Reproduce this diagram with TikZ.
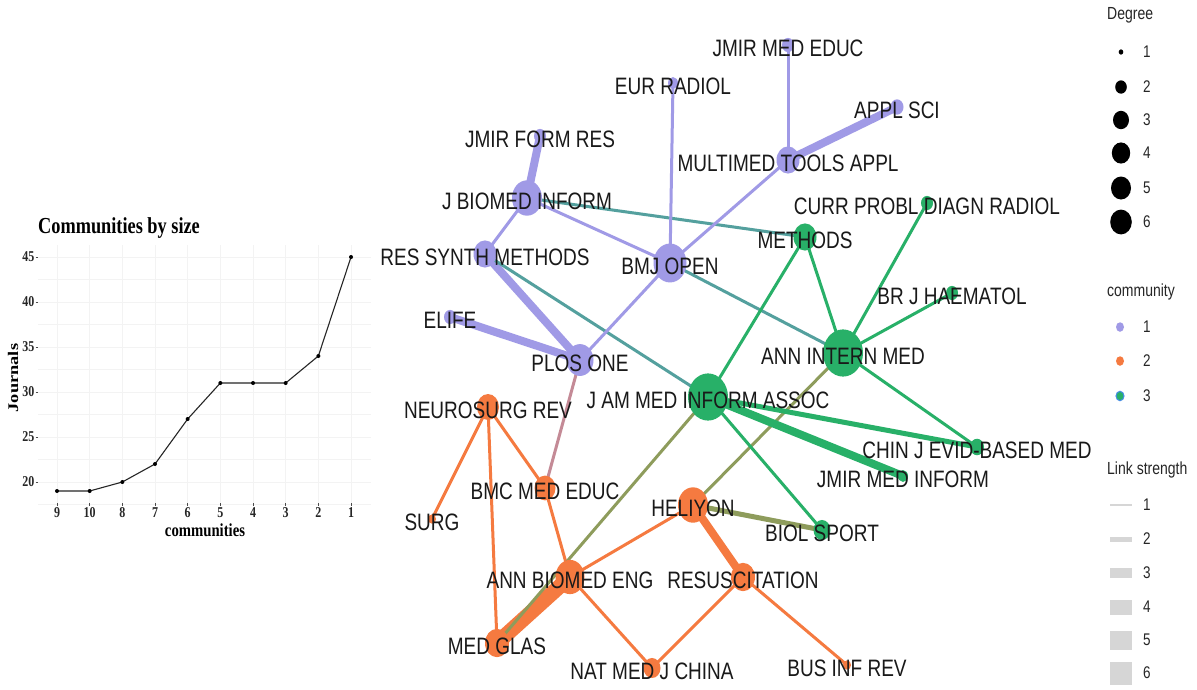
\documentclass[tikz,border=0pt]{standalone}
\usepackage{graphicx}
\usepackage{fontspec}
\setmainfont{Liberation Sans}
\newfontfamily\serifb{Liberation Serif}
\usetikzlibrary{shapes.geometric}
\definecolor{cpur}{RGB}{160,154,230}
\definecolor{cora}{RGB}{245,122,64}
\definecolor{cgrn}{RGB}{40,176,104}
\definecolor{cteal}{RGB}{84,160,158}
\definecolor{colive}{RGB}{142,156,92}
\definecolor{cmauve}{RGB}{196,138,150}
\definecolor{cblue}{RGB}{70,140,230}
\definecolor{legbar}{RGB}{214,214,214}
\definecolor{gridc}{RGB}{243,243,243}
\newcommand{\vst}[1]{\scalebox{1}[1.25]{#1}}
\def\jlist{eur/cpur/5/{EUR RADIOL}, jme/cpur/6/{JMIR MED EDUC}, appl/cpur/6.5/{APPL SCI},
 jfr/cpur/6/{JMIR FORM RES}, mta/cpur/11.5/{MULTIMED TOOLS APPL}, jbi/cpur/15/{J BIOMED INFORM},
 curr/cgrn/6/{CURR PROBL DIAGN RADIOL}, meth/cgrn/11.5/{METHODS}, rsm/cpur/11.5/{RES SYNTH METHODS},
 bmj/cpur/16.5/{BMJ OPEN}, brj/cgrn/6/{BR J HAEMATOL}, elife/cpur/6/{ELIFE}, aim/cgrn/20/{ANN INTERN MED},
 plos/cpur/13.5/{PLOS ONE}, jamia/cgrn/20/{J AM MED INFORM ASSOC}, neuro/cora/11/{NEUROSURG REV},
 chin/cgrn/7/{CHIN J EVID-BASED MED}, jmi/cgrn/5/{JMIR MED INFORM}, bmc/cora/10.5/{BMC MED EDUC},
 heli/cora/15/{HELIYON}, surg/cora/4/{SURG}, biol/cgrn/8.5/{BIOL SPORT}, abe/cora/14.5/{ANN BIOMED ENG},
 resus/cora/12/{RESUSCITATION}, medg/cora/12/{MED GLAS}, bus/cora/4/{BUS INF REV}, nat/cora/8.5/{NAT MED J CHINA}}
\begin{document}
\begin{tikzpicture}[x=1pt,y=-1pt,
  dotn/.style={ellipse, inner sep=0pt, draw=none},
  lab/.style={font=\fontsize{19}{19}\selectfont, inner sep=0pt, text=black!90},
  e1/.style={line width=3pt},
  e2/.style={line width=5pt},
  e4/.style={line width=8pt},
  e6/.style={line width=15pt},
  axlab/.style={font=\serifb\bfseries\fontsize{12}{12}\selectfont, inner sep=0pt, text=black!85},
  axtitle/.style={font=\serifb\bfseries\fontsize{14.7}{14.7}\selectfont, inner sep=0pt, text=black},
  legt/.style={font=\fontsize{14}{14}\selectfont, inner sep=0pt, anchor=west, text=black!85},
  legn/.style={font=\fontsize{13.5}{13.5}\selectfont, inner sep=0pt, anchor=west, text=black!85},
  gridl/.style={draw=gridc, line width=0.6pt}]
\useasboundingbox[fill=white] (0,0) rectangle (1197,689);

% ---------------- left chart ----------------
\node[anchor=west, font=\serifb\bfseries\fontsize{18.3}{18.3}\selectfont, inner sep=0pt] (ctitle) at (38,228) {\vst{Communities by size}};
\foreach \v in {17.5,20,22.5,25,27.5,30,32.5,35,37.5,40,42.5,45} {
  \draw[gridl] (38,{482-(\v-20)*9}) -- (371,{482-(\v-20)*9});
}
\foreach \i in {0,...,9} {
  \draw[gridl] ({57+\i*32.67},245) -- ({57+\i*32.67},503);
}
\foreach \v in {20,25,30,35,40,45} {
  \node[axlab, anchor=east] (yl\v) at (34.5,{482-(\v-20)*9}) {\vst{\v}};
  \draw[black!70, line width=0.6pt] (35.5,{482-(\v-20)*9}) -- (38,{482-(\v-20)*9});
}
\foreach \lab [count=\i from 0] in {9,10,8,7,6,5,4,3,2,1} {
  \node[axlab] (xl\i) at ({57+\i*32.67},513) {\vst{\lab}};
  \draw[black!70, line width=0.6pt] ({57+\i*32.67},503) -- ({57+\i*32.67},505.5);
}
\node[axtitle] (xtitle) at (205,530) {\vst{communities}};
\node[axtitle, rotate=90] (ytitle) at (13,378) {\scalebox{1.25}[1]{Journals}};
\foreach \val [count=\i from 0] in {19,19,20,22,27,31,31,31,34,45} {
  \coordinate (p\i) at ({57+\i*32.67},{482-(\val-20)*9});
}
\draw[black!85, line width=1.1pt, line join=round] (p0) -- (p1) -- (p2) -- (p3) -- (p4) -- (p5) -- (p6) -- (p7) -- (p8) -- (p9);
\foreach \i in {0,...,9} { \fill[black] (p\i) circle (2pt); }

% ---------------- network coordinates ----------------
\coordinate (eur) at (673,83);
\coordinate (jme) at (788,45);
\coordinate (appl) at (897,107);
\coordinate (jfr) at (540,136);
\coordinate (mta) at (788,160);
\coordinate (jbi) at (527,198);
\coordinate (curr) at (927,203);
\coordinate (meth) at (805,237);
\coordinate (rsm) at (485,254);
\coordinate (bmj) at (670,263);
\coordinate (brj) at (952,293);
\coordinate (elife) at (450,317);
\coordinate (aim) at (843,353);
\coordinate (plos) at (580,360);
\coordinate (jamia) at (708,397);
\coordinate (neuro) at (488,407);
\coordinate (chin) at (977,447);
\coordinate (jmi) at (903,476);
\coordinate (bmc) at (545,488);
\coordinate (heli) at (693,505);
\coordinate (surg) at (432,519);
\coordinate (biol) at (822,530);
\coordinate (abe) at (570,577);
\coordinate (resus) at (743,577);
\coordinate (medg) at (497,643);
\coordinate (bus) at (847,665);
\coordinate (nat) at (652,668);

% ---------------- edges ----------------
\draw[e4, cpur] (jfr) -- (jbi);
\draw[e1, cpur] (jbi) -- (rsm);
\draw[e1, cpur] (jbi) -- (bmj);
\draw[e1, cteal] (jbi) -- (meth);
\draw[e4, cpur] (rsm) -- (plos);
\draw[e1, cteal] (rsm) -- (jamia);
\draw[e4, cpur] (elife) -- (plos);
\draw[e1, cpur] (plos) -- (bmj);
\draw[e1, cmauve] (plos) -- (bmc);
\draw[e1, cpur] (bmj) -- (eur);
\draw[e1, cpur] (bmj) -- (mta);
\draw[e1, cteal] (bmj) -- (aim);
\draw[e1, cpur] (mta) -- (jme);
\draw[e4, cpur] (mta) -- (appl);
\draw[e1, cgrn] (meth) -- (jamia);
\draw[e1, cgrn] (meth) -- (aim);
\draw[e1, cgrn] (aim) -- (curr);
\draw[e1, cgrn] (aim) -- (brj);
\draw[e1, cgrn] (aim) -- (chin);
\draw[e1, colive] (aim) -- (heli);
\draw[e2, cgrn] (jamia) -- (chin);
\draw[e4, cgrn] (jamia) -- (jmi);
\draw[e1, cgrn] (jamia) -- (biol);
\draw[e2, colive] (heli) -- (biol);
\draw[e1, cora] (neuro) -- (surg);
\draw[e1, cora] (neuro) -- (medg);
\draw[e1, cora] (neuro) -- (bmc);
\draw[e1, cora] (bmc) -- (abe);
\draw[e1, cora] (abe) -- (heli);
\draw[e1, cora] (abe) -- (nat);
\draw[e6, cora] (abe) -- (medg);
\draw[e1, colive] (jamia) -- (medg);
\draw[e4, cora] (heli) -- (resus);
\draw[e1, cora] (resus) -- (nat);
\draw[e1, cora] (resus) -- (bus);

% ---------------- nodes ----------------
\foreach \n/\c/\r/\t in \jlist {
  \node[dotn, fill=\c, minimum width={2*\r pt}, minimum height={2.36*\r pt}] (\n-d) at (\n) {};
}
\foreach \n/\c/\r/\t in \jlist {
  \node[lab] (\n-l) at ([yshift=-3pt]\n) {\vst{\t}};
}

% ---------------- legends ----------------
\node[legt] (degt) at (1107,15) {\vst{Degree}};
\foreach \k/\y/\rx in {1/52/2.3, 2/87/5.8, 3/120/8, 4/153/9.2, 5/188/10, 6/222/10.8} {
  \node[dotn, fill=black, minimum width={2*\rx pt}, minimum height={2.3*\rx pt}] (dg\k) at (1121,\y) {};
  \node[legn] (dgl\k) at (1143,\y) {\vst{\k}};
}
\node[legt] (comt) at (1107,292) {\vst{community}};
\node[dotn, fill=cpur, minimum width=8pt, minimum height=9.5pt] (cm1) at (1120,327) {};
\node[legn] (cml1) at (1143,327) {\vst{1}};
\node[dotn, fill=cora, minimum width=8pt, minimum height=9.5pt] (cm2) at (1120,361) {};
\node[legn] (cml2) at (1143,361) {\vst{2}};
\node[dotn, fill=cgrn, draw=cblue, line width=1pt, minimum width=8pt, minimum height=9.5pt] (cm3) at (1120,396) {};
\node[legn] (cml3) at (1143,396) {\vst{3}};
\node[legt] (lnkt) at (1107,470) {\vst{Link strength}};
\foreach \k/\y/\h in {1/505/2.7, 2/539/5, 3/573/10, 4/607/15, 5/640/19, 6/673/23} {
  \node[rectangle, fill=legbar, inner sep=0pt, minimum width=22pt, minimum height=\h pt] (lk\k) at (1121,\y) {};
  \node[legn] (lkl\k) at (1143,\y) {\vst{\k}};
}
\end{tikzpicture}
\end{document}
